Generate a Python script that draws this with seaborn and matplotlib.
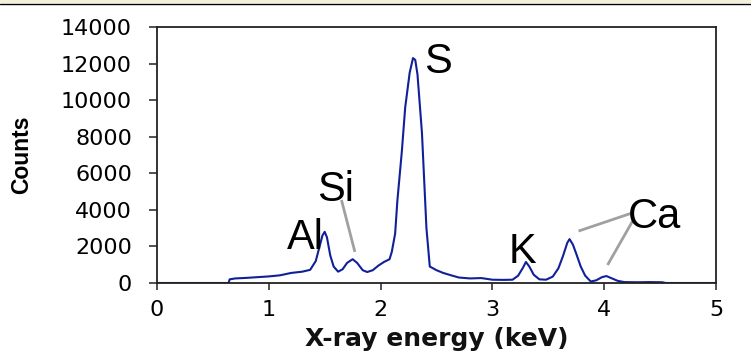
import matplotlib
matplotlib.use("Agg")
import matplotlib.pyplot as plt
from matplotlib.lines import Line2D
from matplotlib.patches import Rectangle
import seaborn as sns
import pandas as pd

# Spectrum
energy_kev = [0.00, 0.64, 0.65, 0.70, 0.80, 0.90, 1.00, 1.10, 1.20, 1.30, 1.37, 1.42, 1.45, 1.48,
              1.50, 1.52, 1.55, 1.58, 1.62, 1.66, 1.70, 1.75, 1.79, 1.84, 1.88, 1.93, 1.98, 2.03,
              2.08, 2.10, 2.13, 2.15, 2.19, 2.22, 2.26, 2.29, 2.31, 2.33, 2.37, 2.39, 2.41, 2.44,
              2.50, 2.56, 2.62, 2.70, 2.80, 2.90, 3.00, 3.10, 3.18, 3.23, 3.27, 3.30, 3.33, 3.37,
              3.42, 3.48, 3.54, 3.59, 3.63, 3.67, 3.69, 3.72, 3.75, 3.79, 3.83, 3.88, 3.93, 3.98,
              4.02, 4.07, 4.12, 4.18, 4.30, 4.40, 4.52, 4.55, 5.00]
counts = [0, 0, 200, 250, 280, 320, 360, 420, 550, 620, 720, 1200, 1900, 2600,
          2800, 2500, 1500, 900, 620, 750, 1100, 1300, 1100, 700, 600, 700, 950, 1150,
          1300, 1700, 2700, 4500, 7200, 9600, 11500, 12300, 12200, 11400, 8200, 5600, 3000, 900,
          700, 550, 440, 300, 250, 270, 180, 170, 180, 400, 800, 1150, 900, 450,
          200, 180, 350, 800, 1450, 2200, 2400, 2100, 1600, 900, 400, 80, 150, 320,
          380, 250, 120, 50, 40, 50, 40, 0, 0]

x_ticks = [0, 1, 2, 3, 4, 5]
y_ticks = [0, 2000, 4000, 6000, 8000, 10000, 12000, 14000]

peak_labels = ["S", "Al", "Si", "K", "Ca"]
peak_label_x = [2.51, 1.33, 1.60, 3.27, 4.45]
peak_label_y = [12100, 2450, 5100, 1700, 3610]

# leader lines: (x0, y0, x1, y1)
leader_x0 = [1.65, 4.25, 4.26]
leader_y0 = [4540, 3830, 3450]
leader_x1 = [1.77, 3.77, 4.03]
leader_y1 = [1700, 2840, 985]

sns.set_style("white")
plt.rcParams['font.family'] = ['DejaVu Sans']

fig = plt.figure(figsize=(7.51, 3.60), dpi=100)
ax = fig.add_axes([157/751, 1 - 283/360, (716 - 157)/751, (283 - 27)/360])

df = pd.DataFrame({"energy": energy_kev, "counts": counts})
sns.lineplot(data=df, x="energy", y="counts", sort=False, estimator=None,
             color="#10209a", linewidth=1.5, ax=ax)

ax.set_xlim(0, 5)
ax.set_ylim(0, 14000)
ax.set_xticks(x_ticks)
ax.set_yticks(y_ticks)
ax.set_xticklabels([str(v) for v in x_ticks])
ax.set_yticklabels([str(v) for v in y_ticks])

for s in ax.spines.values():
    s.set_color("#222222")
    s.set_linewidth(1.3)
    s.set_visible(True)

ax.tick_params(axis="y", direction="out", length=6, width=1.1, color="#222222",
               pad=12, labelsize=16, labelcolor="#000000")
ax.tick_params(axis="x", direction="out", length=5, width=1.1, color="#222222",
               pad=7, labelsize=16, labelcolor="#000000")
ax.tick_params(left=True, bottom=True)

ax.set_xlabel("X-ray energy (keV)", fontsize=18, fontweight="bold", color="#111111")
ax.xaxis.set_label_coords(0.5, -0.17)
ax.set_ylabel("Counts", fontsize=16.5, fontweight="bold", family="Liberation Sans",
              color="#000000")
ax.yaxis.set_label_coords(-0.222, 0.5)

for lab, lx, ly in zip(peak_labels, peak_label_x, peak_label_y):
    ax.text(lx, ly, lab, fontsize=30, family="Liberation Sans", color="black",
            ha="center", va="center")

for x0, y0, x1, y1 in zip(leader_x0, leader_y0, leader_x1, leader_y1):
    ax.plot([x0, x1], [y0, y1], color="#a0a0a0", linewidth=2.0, solid_capstyle="butt")

# frame decoration at top of image
fig.add_artist(Rectangle((0, 1 - 3/360), 1, 3/360, transform=fig.transFigure,
                         facecolor="#f5f0d8", edgecolor="none"))
fig.add_artist(Line2D([0, 1], [1 - 4/360, 1 - 4/360], transform=fig.transFigure,
                      color="black", linewidth=1.0))

fig.savefig("out.png", dpi=100)
